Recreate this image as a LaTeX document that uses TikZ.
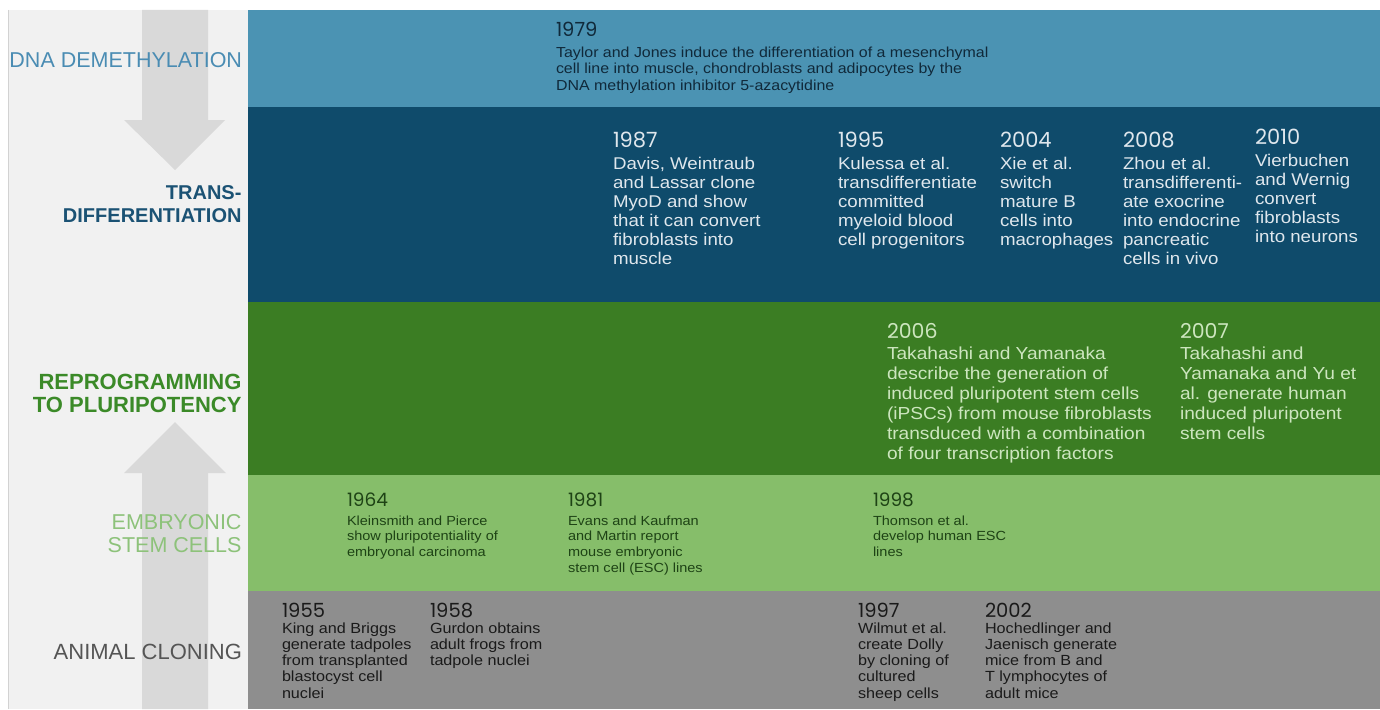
\documentclass[tikz,border=0pt]{standalone}
\usepackage{fontspec}
\setmainfont{Liberation Sans}
\newfontfamily\bandfont{Liberation Sans}[FakeStretch=1.1]
\newfontfamily\labelfont{Liberation Sans}
\newfontfamily\yearfont{Poppins}

% band and label colours
\definecolor{bandA}{HTML}{4B93B3}
\definecolor{bandB}{HTML}{0F4B6B}
\definecolor{bandC}{HTML}{3B7D23}
\definecolor{bandD}{HTML}{86BE6A}
\definecolor{bandE}{HTML}{8E8E8E}
\definecolor{panel}{HTML}{F1F1F1}
\definecolor{panelline}{HTML}{D2D2D2}
\definecolor{arrowgray}{HTML}{D9D9D9}
\definecolor{inkA}{HTML}{10293A}
\definecolor{inkB}{HTML}{DFE7ED}
\definecolor{inkC}{HTML}{CDE6BF}
\definecolor{inkD}{HTML}{1E4315}
\definecolor{inkE}{HTML}{1A1A1A}
\definecolor{labA}{HTML}{4A8CB3}
\definecolor{labB}{HTML}{1B5274}
\definecolor{labC}{HTML}{3B8A28}
\definecolor{labD}{HTML}{8DC27A}
\definecolor{labE}{HTML}{555555}

% a block of lines whose baseline is that of its first line
\newcommand{\tblock}[2]{\vtop{\baselineskip=#1\relax\lineskiplimit=-30pt\relax\lineskip=0pt\relax #2}}
\newcommand{\tline}[1]{\hbox{#1}}

\tikzset{
  entry/.style={anchor=base west, inner sep=0pt, outer sep=0pt},
  yA/.style={entry, text=inkA, font=\yearfont\fontsize{19.5}{21}\selectfont},
  tA/.style={entry, text=inkA, font=\bandfont\fontsize{14.5}{16.5}\selectfont},
  yB/.style={entry, text=inkB, font=\yearfont\fontsize{21}{23}\selectfont},
  tB/.style={entry, text=inkB, font=\bandfont\fontsize{17}{19}\selectfont},
  yC/.style={entry, text=inkC, font=\yearfont\fontsize{20.5}{22}\selectfont},
  tC/.style={entry, text=inkC, font=\bandfont\fontsize{17.4}{20}\selectfont},
  yD/.style={entry, text=inkD, font=\yearfont\fontsize{18.5}{20}\selectfont},
  tD/.style={entry, text=inkD, font=\bandfont\fontsize{13.2}{15.7}\selectfont},
  yE/.style={entry, text=inkE, font=\yearfont\fontsize{19.5}{21}\selectfont},
  tE/.style={entry, text=inkE, font=\bandfont\fontsize{14.7}{16.3}\selectfont},
  lab/.style={anchor=base east, inner sep=0pt, outer sep=0pt, align=right},
}

\begin{document}
\begin{tikzpicture}[x=1pt,y=-1pt]
\useasboundingbox (0,0) rectangle (1380,709);
\fill[white] (0,0) rectangle (1380,709);

% left panel with the two gray arrows
\fill[panel] (8,10) rectangle (248,709);
\draw[panelline, line width=1pt] (8.5,10) -- (8.5,709);
\fill[arrowgray] (142,10) -- (208,10) -- (208,120) -- (225,120) -- (175,170)
  -- (124,120) -- (142,120) -- cycle;
\fill[arrowgray] (142,709) -- (142,473) -- (124,473) -- (175,422) -- (226,473)
  -- (208,473) -- (208,709) -- cycle;

% coloured bands
\fill[bandA] (248,10) rectangle (1380,107);
\fill[bandB] (248,107) rectangle (1380,302);
\fill[bandC] (248,302) rectangle (1380,475);
\fill[bandD] (248,475) rectangle (1380,591);
\fill[bandE] (248,591) rectangle (1380,709);

% band labels
\node[lab, text=labA, font=\labelfont\fontsize{21.5}{24}\selectfont] (labDNA) at (242,67) {DNA DEMETHYLATION};
\node[lab, text=labB, font=\labelfont\bfseries\fontsize{20}{22}\selectfont] (labTD) at (242,199)
  {\tblock{23pt}{\hbox to 0pt{\hss TRANS-}\hbox to 0pt{\hss DIFFERENTIATION}}\hbox{}};
\node[lab, text=labC, font=\labelfont\bfseries\fontsize{22}{23}\selectfont] (labRP) at (242,389)
  {\tblock{23pt}{\hbox to 0pt{\hss REPROGRAMMING}\hbox to 0pt{\hss TO PLURIPOTENCY}}\hbox{}};
\node[lab, text=labD, font=\labelfont\fontsize{21.5}{23}\selectfont] (labES) at (242,529)
  {\tblock{23pt}{\hbox to 0pt{\hss EMBRYONIC}\hbox to 0pt{\hss STEM CELLS}}\hbox{}};
\node[lab, text=labE, font=\labelfont\fontsize{22}{24}\selectfont] (labAC) at (242,659) {ANIMAL CLONING};

% DNA demethylation
\node[yA] (y1979) at (556,37) {1979};
\node[tA] (t1979) at (556,57) {\tblock{16.5pt}{%
  \tline{Taylor and Jones induce the differentiation of a mesenchymal}%
  \tline{cell line into muscle, chondroblasts and adipocytes by the}%
  \tline{DNA methylation inhibitor 5-azacytidine}}};

% transdifferentiation
\node[yB] (y1987) at (613,147) {1987};
\node[tB] (t1987) at (613,169) {\tblock{19pt}{%
  \tline{Davis, Weintraub}\tline{and Lassar clone}\tline{MyoD and show}%
  \tline{that it can convert}\tline{fibroblasts into}\tline{muscle}}};
\node[yB] (y1995) at (838,147) {1995};
\node[tB] (t1995) at (838,169) {\tblock{19pt}{%
  \tline{Kulessa et al.}\tline{transdifferentiate}\tline{committed}%
  \tline{myeloid blood}\tline{cell progenitors}}};
\node[yB] (y2004) at (1000,147) {2004};
\node[tB] (t2004) at (1000,169) {\tblock{19pt}{%
  \tline{Xie et al.}\tline{switch}\tline{mature B}%
  \tline{cells into}\tline{macrophages}}};
\node[yB] (y2008) at (1123,147) {2008};
\node[tB] (t2008) at (1123,169) {\tblock{19pt}{%
  \tline{Zhou et al.}\tline{transdifferenti-}\tline{ate exocrine}%
  \tline{into endocrine}\tline{pancreatic}\tline{cells in vivo}}};
\node[yB] (y2010) at (1255,144) {2010};
\node[tB] (t2010) at (1255,166) {\tblock{19pt}{%
  \tline{Vierbuchen}\tline{and Wernig}\tline{convert}%
  \tline{fibroblasts}\tline{into neurons}}};

% reprogramming to pluripotency
\node[yC] (y2006) at (887,338) {2006};
\node[tC] (t2006) at (887,359) {\tblock{20pt}{%
  \tline{Takahashi and Yamanaka}\tline{describe the generation of}%
  \tline{induced pluripotent stem cells}\tline{(iPSCs) from mouse fibroblasts}%
  \tline{transduced with a combination}\tline{of four transcription factors}}};
\node[yC] (y2007) at (1180,338) {2007};
\node[tC] (t2007) at (1180,359) {\tblock{20pt}{%
  \tline{Takahashi and}\tline{Yamanaka and Yu et}\tline{al. generate human}%
  \tline{induced pluripotent}\tline{stem cells}}};

% embryonic stem cells
\node[yD] (y1964) at (347,506) {1964};
\node[tD] (t1964) at (347,525) {\tblock{15.7pt}{%
  \tline{Kleinsmith and Pierce}\tline{show pluripotentiality of}\tline{embryonal carcinoma}}};
\node[yD] (y1981) at (568,506) {1981};
\node[tD] (t1981) at (568,525) {\tblock{15.7pt}{%
  \tline{Evans and Kaufman}\tline{and Martin report}\tline{mouse embryonic}%
  \tline{stem cell (ESC) lines}}};
\node[yD] (y1998) at (873,506) {1998};
\node[tD] (t1998) at (873,525) {\tblock{15.7pt}{%
  \tline{Thomson et al.}\tline{develop human ESC}\tline{lines}}};

% animal cloning
\node[yE] (y1955) at (282,617) {1955};
\node[tE] (t1955) at (282,633) {\tblock{16.3pt}{%
  \tline{King and Briggs}\tline{generate tadpoles}\tline{from transplanted}%
  \tline{blastocyst cell}\tline{nuclei}}};
\node[yE] (y1958) at (430,617) {1958};
\node[tE] (t1958) at (430,633) {\tblock{16.3pt}{%
  \tline{Gurdon obtains}\tline{adult frogs from}\tline{tadpole nuclei}}};
\node[yE] (y1997) at (858,617) {1997};
\node[tE] (t1997) at (858,633) {\tblock{16.3pt}{%
  \tline{Wilmut et al.}\tline{create Dolly}\tline{by cloning of}%
  \tline{cultured}\tline{sheep cells}}};
\node[yE] (y2002) at (985,617) {2002};
\node[tE] (t2002) at (985,633) {\tblock{16.3pt}{%
  \tline{Hochedlinger and}\tline{Jaenisch generate}\tline{mice from B and}%
  \tline{T lymphocytes of}\tline{adult mice}}};
\end{tikzpicture}
\end{document}
